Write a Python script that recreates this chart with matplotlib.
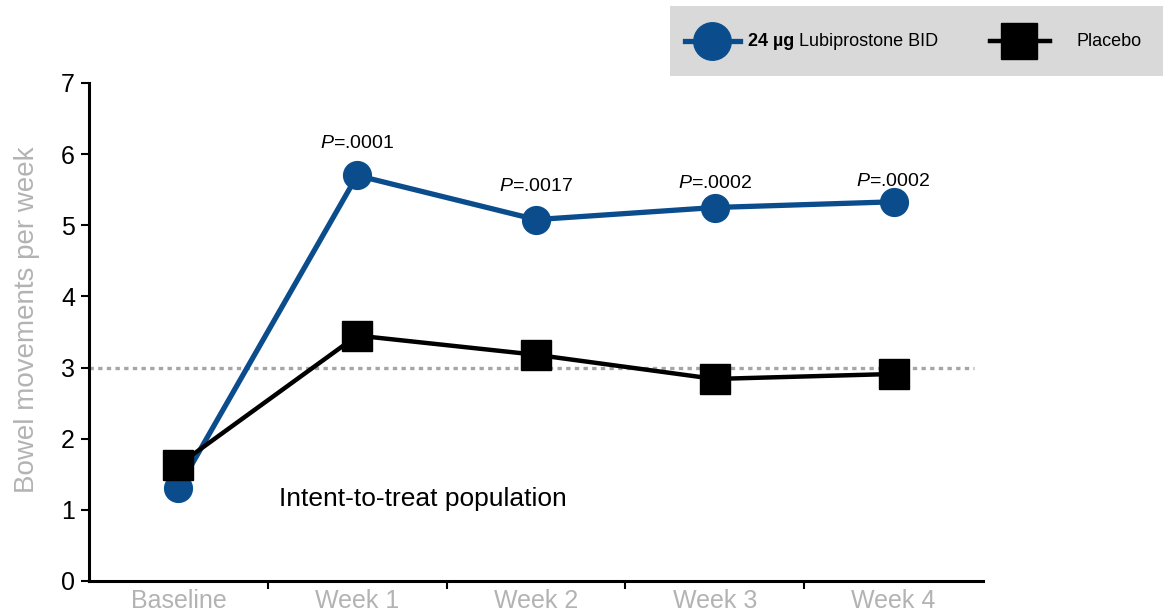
import numpy as np
import matplotlib
matplotlib.use("Agg")
import matplotlib.pyplot as plt
from matplotlib.lines import Line2D
from matplotlib.patches import Rectangle

plt.rcParams['font.family'] = ['Liberation Sans', 'DejaVu Sans']
plt.rcParams['mathtext.fontset'] = 'custom'
plt.rcParams['mathtext.it'] = 'Liberation Sans:italic'
plt.rcParams['mathtext.rm'] = 'Liberation Sans'

# Data
categories = ['Baseline', 'Week 1', 'Week 2', 'Week 3', 'Week 4']
lubiprostone = [1.31, 5.70, 5.08, 5.25, 5.33]
placebo = [1.63, 3.45, 3.18, 2.84, 2.91]
p_labels = ['', '.0001', '.0017', '.0002', '.0002']
p_offsets = [0, 0.33, 0.35, 0.22, 0.17]
threshold = 3

blue = '#0b4d8c'
grey_txt = '#b3b3b3'

fig = plt.figure(figsize=(11.63, 6.12), dpi=100)
ax = fig.add_axes([89/1163, 31/612, 894/1163, 498/612])

x = np.arange(len(categories))
ax.axhline(threshold, xmin=0, xmax=0.99, color='#a6a6a6', lw=2.4, ls=(0, (1.3, 1.3)), zorder=1)
ax.plot(x, placebo, color='black', lw=3.2, marker='s', ms=21, zorder=3)
ax.plot(x, lubiprostone, color=blue, lw=3.8, marker='o', ms=20, zorder=2)

for xi, yi, lab, off in zip(x, lubiprostone, p_labels, p_offsets):
    if lab:
        ax.text(xi, yi + off, r'$P$=' + lab, ha='center', va='bottom', fontsize=14)

ax.text(0.56, 1.15, 'Intent-to-treat population', fontsize=19, va='center', ha='left')

ax.set_xlim(-0.5, 4.5)
ax.set_ylim(0, 7)
ax.set_yticks(range(0, 8))
ax.set_xticks(x)
ax.set_xticklabels(categories, color=grey_txt, fontsize=18)
ax.set_xticks(x[:-1] + 0.5, minor=True)
ax.tick_params(axis='x', which='major', length=0, pad=6)
ax.tick_params(axis='x', which='minor', length=6, width=1.5, direction='out')
ax.tick_params(axis='y', length=6, width=1.5, labelsize=18, pad=4)
ax.set_ylabel('Bowel movements per week', color=grey_txt, fontsize=20)
ax.yaxis.set_label_coords(-0.055, 0.524)

for s in ['top', 'right']:
    ax.spines[s].set_visible(False)
for s in ['left', 'bottom']:
    ax.spines[s].set_linewidth(2.2)

# Legend panel
W, H = 1163, 612
fig.patches.append(Rectangle((670/W, 1 - 76/H), 493/W, 70/H, transform=fig.transFigure,
                             facecolor='#d9d9d9', edgecolor='none', zorder=0))
ly = 1 - 41/H
fig.add_artist(Line2D([685/W, 740/W], [ly, ly], color=blue, lw=3.8, transform=fig.transFigure))
fig.add_artist(Line2D([712/W], [ly], color=blue, marker='o', ms=27, transform=fig.transFigure))
fig.add_artist(Line2D([990/W, 1050/W], [ly, ly], color='black', lw=3.2, transform=fig.transFigure))
fig.add_artist(Line2D([1019/W], [ly], color='black', marker='s', ms=26, transform=fig.transFigure))
t1 = fig.text(748/W, ly, '24 µg', fontsize=13, fontweight='bold', va='center', ha='left')
fig.canvas.draw()
bb = t1.get_window_extent()
fig.text(bb.x1/W, ly, ' Lubiprostone BID', fontsize=13, va='center', ha='left')
fig.text(1077/W, ly, 'Placebo', fontsize=13, va='center', ha='left')

fig.savefig('out.png', dpi=100)
